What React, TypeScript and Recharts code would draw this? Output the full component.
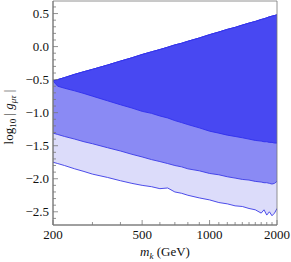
import React from 'react';
import { ComposedChart, Area, XAxis, YAxis, ReferenceArea } from 'recharts';

const mass = [200, 210, 225, 250, 275, 300, 350, 400, 450, 500, 550, 600, 650, 700, 750, 800, 900, 1000, 1100, 1200, 1300, 1400, 1500, 1600, 1700, 1750, 1800, 1850, 1900, 1950, 2000];
const topEdge = [-0.52, -0.5, -0.47, -0.42, -0.38, -0.345, -0.28, -0.22, -0.17, -0.12, -0.08, -0.045, -0.01, 0.025, 0.05, 0.08, 0.13, 0.18, 0.22, 0.26, 0.29, 0.325, 0.355, 0.38, 0.41, 0.42, 0.435, 0.45, 0.46, 0.47, 0.48];
const darkLow = [-0.52, -0.6, -0.63, -0.67, -0.71, -0.75, -0.82, -0.88, -0.93, -0.98, -1.01, -1.05, -1.08, -1.12, -1.15, -1.18, -1.23, -1.28, -1.31, -1.34, -1.36, -1.38, -1.4, -1.42, -1.43, -1.44, -1.44, -1.45, -1.45, -1.46, -1.46];
const mediumLow = [-1.31, -1.33, -1.36, -1.4, -1.44, -1.47, -1.53, -1.58, -1.63, -1.67, -1.71, -1.74, -1.77, -1.8, -1.82, -1.85, -1.88, -1.92, -1.94, -1.97, -1.99, -2.01, -2.02, -2.04, -2.05, -2.06, -2.06, -2.07, -2.08, -2.07, -2.04];
const lightLow = [-1.75, -1.77, -1.8, -1.85, -1.89, -1.93, -1.98, -2.03, -2.07, -2.1, -2.12, -2.15, -2.14, -2.2, -2.22, -2.25, -2.29, -2.32, -2.36, -2.38, -2.41, -2.42, -2.45, -2.47, -2.52, -2.47, -2.55, -2.5, -2.56, -2.52, -2.45];

const xMajorTicks = [200, 500, 1000, 2000];
const xMinorTicks = [300, 400, 600, 700, 800, 900, 1100, 1200, 1300, 1400, 1500, 1600, 1700, 1800, 1900];
const yMajorTicks = [-2.5, -2.0, -1.5, -1.0, -0.5, 0.0, 0.5];
const yMinorTicks = [-2.6, -2.4, -2.3, -2.2, -2.1, -1.9, -1.8, -1.7, -1.6, -1.4, -1.3, -1.2, -1.1, -0.9, -0.8, -0.7, -0.6, -0.4, -0.3, -0.2, -0.1, 0.1, 0.2, 0.3, 0.4, 0.6];

const Y_DOMAIN = [-2.7, 0.69];

const data = mass.map((m, i) => ({
  m,
  light: [lightLow[i], topEdge[i]],
  medium: [mediumLow[i], topEdge[i]],
  dark: [darkLow[i], topEdge[i]],
}));

const FONT = 'Liberation Serif, Times New Roman, DejaVu Serif, serif';
const AXIS = '#777';
const PLOT_LEFT = 53;
const PLOT_BOTTOM = 225;
const txtStyle = { fontFamily: FONT, fontSize: 13 } as React.CSSProperties;

const fmtY = (v: number) => {
  const s = Math.abs(v).toFixed(1);
  return v < -1e-9 ? '\u2212' + s : s;
};

const XTick = (props: any) => {
  const { x, payload } = props;
  const major = xMajorTicks.includes(payload.value);
  return (
    <g>
      <line x1={x} x2={x} y1={PLOT_BOTTOM} y2={PLOT_BOTTOM - (major ? 5 : 3)} stroke={AXIS} strokeWidth={0.8} />
      {major && (
        <text x={x} y={239} textAnchor="middle" style={txtStyle} fill="#111">
          {payload.value}
        </text>
      )}
    </g>
  );
};

const YTick = (props: any) => {
  const { y, payload } = props;
  const major = yMajorTicks.some((t) => Math.abs(t - payload.value) < 1e-6);
  return (
    <g>
      <line x1={PLOT_LEFT} x2={PLOT_LEFT + (major ? 5 : 3)} y1={y} y2={y} stroke={AXIS} strokeWidth={0.8} />
      {major && (
        <text x={49} y={y + 4.5} textAnchor="end" style={txtStyle} fill="#111">
          {fmtY(payload.value)}
        </text>
      )}
    </g>
  );
};

export default function App() {
  return (
    <div style={{ position: 'absolute', left: 0, top: 0, width: 291, height: 262, background: '#fff' }}>
      <ComposedChart width={291} height={262} data={data} margin={{ top: 1, right: 14, bottom: 0, left: 0 }}>
        <XAxis
          dataKey="m"
          type="number"
          scale="log"
          domain={[200, 2000]}
          allowDataOverflow
          ticks={[...xMajorTicks, ...xMinorTicks]}
          interval={0}
          tickSize={0}
          tickMargin={0}
          height={37}
          stroke={AXIS}
          tick={<XTick />}
        />
        <YAxis
          type="number"
          domain={Y_DOMAIN}
          allowDataOverflow
          ticks={[...yMajorTicks, ...yMinorTicks]}
          interval={0}
          tickSize={0}
          tickMargin={0}
          width={53}
          stroke={AXIS}
          tick={<YTick />}
        />
        <Area type="linear" dataKey="light" fill="#dcdcfa" fillOpacity={1} stroke="#3a3ae6" strokeWidth={0.9} isAnimationActive={false} />
        <Area type="linear" dataKey="medium" fill="#8a8af4" fillOpacity={1} stroke="#3a3ae6" strokeWidth={0.9} isAnimationActive={false} />
        <Area type="linear" dataKey="dark" fill="#4848f2" fillOpacity={1} stroke="#3030ec" strokeWidth={0.9} isAnimationActive={false} />
        <ReferenceArea x1={200} x2={2000} y1={Y_DOMAIN[0]} y2={Y_DOMAIN[1]} fill="none" stroke={AXIS} strokeWidth={0.8} ifOverflow="visible" />
      </ComposedChart>
      <svg width={291} height={262} style={{ position: 'absolute', left: 0, top: 0, pointerEvents: 'none' }}>
        <text transform="translate(13,117) rotate(-90)" textAnchor="middle" style={txtStyle} fill="#111">
          log<tspan fontSize={9} dy={3}>10</tspan>
          <tspan dy={-3}> | </tspan>
          <tspan fontStyle="italic">g</tspan>
          <tspan fontSize={9} fontStyle="italic" dy={3}>{'\u03bc\u03c4'}</tspan>
          <tspan dy={-3}> |</tspan>
        </text>
        <text x={165} y={256} textAnchor="middle" style={txtStyle} fill="#111">
          <tspan fontStyle="italic">m</tspan>
          <tspan fontStyle="italic" fontSize={9} dy={3}>k</tspan>
          <tspan dy={-3}> (GeV)</tspan>
        </text>
      </svg>
    </div>
  );
}
